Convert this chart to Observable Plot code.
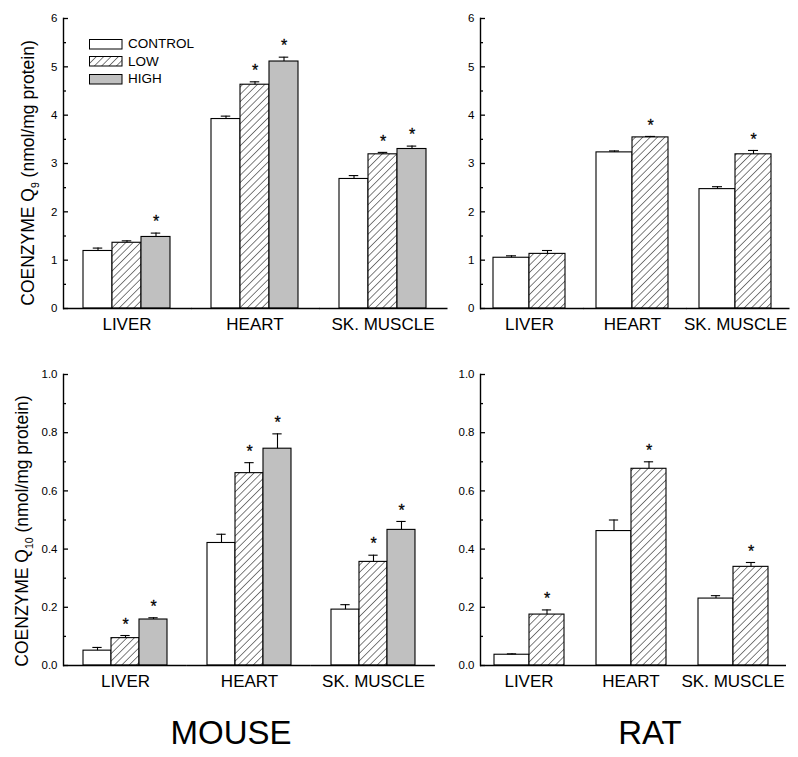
<!DOCTYPE html>
<html>
<head>
<meta charset="utf-8">
<script src="https://cdn.jsdelivr.net/npm/d3@7"></script>
<script src="https://cdn.jsdelivr.net/npm/@observablehq/plot@0.6"></script>
<style>
  body { margin: 0; background: #fff; font-family: "Liberation Sans", Arial, sans-serif; color: #000; }
  #root { position: relative; width: 798px; height: 757px; overflow: hidden; background: #fff; }
  .panel { position: absolute; }
  .ylab { position: absolute; white-space: nowrap; font-size: 17.5px; line-height: 1; transform: translate(-50%, -50%) rotate(-90deg); }
  .ylab sub { font-size: 0.6em; }
  .species { position: absolute; font-size: 33px; line-height: 1; transform: translateX(-50%); white-space: nowrap; }
  .lrow { position: absolute; left: 89px; height: 10px; display: flex; align-items: center; }
  .lrow span { margin-left: 5px; font-size: 13.5px; line-height: 10px; }
</style>
</head>
<body>
<svg width="0" height="0" style="position:absolute">
  <defs>
    <pattern id="hatch" patternUnits="userSpaceOnUse" width="5.2" height="5.2" patternTransform="rotate(45)">
      <rect width="5.2" height="5.2" fill="white"></rect>
      <line x1="0" y1="0" x2="0" y2="5.2" stroke="black" stroke-width="1"></line>
    </pattern>
  </defs>
</svg>
<div id="root"></div>
<script>
// ---------- data ----------
const organs = ["LIVER", "HEART", "SK. MUSCLE"];
const groups = ["CONTROL", "LOW", "HIGH"];
const species = ["MOUSE", "RAT"];

// Mouse coenzyme Q9 (nmol/mg protein), per organ
const mouseQ9Control = [1.19, 3.92, 2.68];
const mouseQ9Low     = [1.36, 4.63, 3.19];
const mouseQ9High    = [1.48, 5.11, 3.30];
const mouseQ9ControlErr = [0.06, 0.06, 0.07];
const mouseQ9LowErr     = [0.04, 0.06, 0.04];
const mouseQ9HighErr    = [0.08, 0.09, 0.06];
const mouseQ9ControlSig = [false, false, false];
const mouseQ9LowSig     = [false, true, true];
const mouseQ9HighSig    = [true, true, true];

// Rat coenzyme Q9
const ratQ9Control = [1.05, 3.23, 2.47];
const ratQ9Low     = [1.13, 3.54, 3.19];
const ratQ9ControlErr = [0.04, 0.03, 0.05];
const ratQ9LowErr     = [0.07, 0.02, 0.08];
const ratQ9ControlSig = [false, false, false];
const ratQ9LowSig     = [false, true, true];

// Mouse coenzyme Q10
const mouseQ10Control = [0.051, 0.421, 0.192];
const mouseQ10Low     = [0.094, 0.661, 0.356];
const mouseQ10High    = [0.158, 0.745, 0.466];
const mouseQ10ControlErr = [0.011, 0.030, 0.017];
const mouseQ10LowErr     = [0.009, 0.036, 0.023];
const mouseQ10HighErr    = [0.006, 0.051, 0.029];
const mouseQ10ControlSig = [false, false, false];
const mouseQ10LowSig     = [true, true, true];
const mouseQ10HighSig    = [true, true, true];

// Rat coenzyme Q10
const ratQ10Control = [0.037, 0.462, 0.230];
const ratQ10Low     = [0.175, 0.676, 0.339];
const ratQ10ControlErr = [0.003, 0.038, 0.010];
const ratQ10LowErr     = [0.016, 0.024, 0.015];
const ratQ10ControlSig = [false, false, false];
const ratQ10LowSig     = [true, true, true];

// axis ticks
const q9Ticks = [0, 1, 2, 3, 4, 5, 6];
const q9Minor = [0.5, 1.5, 2.5, 3.5, 4.5, 5.5];
const q10Ticks = [0, 0.2, 0.4, 0.6, 0.8, 1.0];
const q10Minor = [0.1, 0.3, 0.5, 0.7, 0.9];

// ---------- styles ----------
const fills = {CONTROL: "white", LOW: "url(#hatch)", HIGH: "#c0c0c0"};
const FONT = "'Liberation Sans', Arial, sans-serif";

const root = document.getElementById("root");

function makePanel(cfg) {
  const gs = groups.slice(0, cfg.series.length);
  const rows = [];
  organs.forEach((o, i) => gs.forEach((g, j) => {
    const v = cfg.series[j][i], e = cfg.errors[j][i];
    rows.push({organ: o, group: g, value: v, err: e, top: v + e, sig: cfg.sig[j][i]});
  }));
  const band = 2 * cfg.inset + gs.length * cfg.bar;
  const gap = cfg.step - band;
  const width = cfg.marginLeft + 2 * cfg.step + band + cfg.marginRight;
  const height = cfg.marginTop + cfg.plotHeight + cfg.marginBottom;
  const capInset = (cfg.bar - 10) / 2;

  const plot = Plot.plot({
    width, height,
    marginLeft: cfg.marginLeft, marginRight: cfg.marginRight,
    marginTop: cfg.marginTop, marginBottom: cfg.marginBottom,
    style: {background: "transparent", fontFamily: FONT, color: "black", overflow: "visible"},
    fx: {domain: organs, paddingInner: gap / cfg.step, paddingOuter: 0, label: null},
    x: {domain: gs, padding: 0, insetLeft: cfg.inset, insetRight: cfg.inset, axis: null},
    y: {domain: cfg.yDomain, label: null},
    marks: [
      ...gs.map(g => Plot.barY(rows.filter(d => d.group === g), {
        fx: "organ", x: "group", y: "value", fill: fills[g], stroke: "black", strokeWidth: 1.1
      })),
      Plot.ruleX(rows, {fx: "organ", x: "group", y1: "value", y2: "top", stroke: "black", strokeWidth: 1.1}),
      Plot.tickY(rows, {fx: "organ", x: "group", y: "top", stroke: "black", strokeWidth: 1.1, insetLeft: capInset, insetRight: capInset}),
      Plot.text(rows.filter(d => d.sig), {fx: "organ", x: "group", y: "top", text: () => "*", dy: -11, fontSize: 16, fill: "black", stroke: "black", strokeWidth: 0.3}),
      Plot.ruleY([cfg.yDomain[0]], {stroke: "black", strokeWidth: 1.4, insetRight: -gap}),
      Plot.frame({anchor: "left", facetAnchor: "left", stroke: "black", strokeWidth: 1.4}),
      Plot.axisY({ticks: cfg.ticks, tickSize: -5, tickPadding: 11, tickFormat: cfg.fmt, fontSize: 11.5, label: null, strokeWidth: 1.3}),
      Plot.axisY({ticks: cfg.minor, tickSize: -3, tickFormat: () => "", label: null, strokeWidth: 1.3}),
      Plot.axisFx({anchor: "bottom", tickSize: 0, tickPadding: 9, fontSize: 17, label: null})
    ]
  });
  plot.classList.add("panel");
  plot.style.left = cfg.left + "px";
  plot.style.top = cfg.top + "px";
  root.appendChild(plot);
}

const fmtInt = d3.format("d");
const fmt1 = d3.format(".1f");

makePanel({series: [mouseQ9Control, mouseQ9Low, mouseQ9High],
  errors: [mouseQ9ControlErr, mouseQ9LowErr, mouseQ9HighErr],
  sig: [mouseQ9ControlSig, mouseQ9LowSig, mouseQ9HighSig],
  yDomain: [0, 6], ticks: q9Ticks, minor: q9Minor, fmt: fmtInt,
  step: 128, bar: 29.5, inset: 19,
  left: 0, top: 0, marginLeft: 63, marginRight: 6, marginTop: 18, plotHeight: 290, marginBottom: 37});

makePanel({series: [ratQ9Control, ratQ9Low],
  errors: [ratQ9ControlErr, ratQ9LowErr],
  sig: [ratQ9ControlSig, ratQ9LowSig],
  yDomain: [0, 6], ticks: q9Ticks, minor: q9Minor, fmt: fmtInt,
  step: 103.5, bar: 36, inset: 13,
  left: 440, top: 0, marginLeft: 39, marginRight: 6, marginTop: 18, plotHeight: 290, marginBottom: 37});

makePanel({series: [mouseQ10Control, mouseQ10Low, mouseQ10High],
  errors: [mouseQ10ControlErr, mouseQ10LowErr, mouseQ10HighErr],
  sig: [mouseQ10ControlSig, mouseQ10LowSig, mouseQ10HighSig],
  yDomain: [0, 1], ticks: q10Ticks, minor: q10Minor, fmt: fmt1,
  step: 124, bar: 28.7, inset: 19,
  left: 0, top: 345, marginLeft: 63, marginRight: 6, marginTop: 29, plotHeight: 291, marginBottom: 40});

makePanel({series: [ratQ10Control, ratQ10Low],
  errors: [ratQ10ControlErr, ratQ10LowErr],
  sig: [ratQ10ControlSig, ratQ10LowSig],
  yDomain: [0, 1], ticks: q10Ticks, minor: q10Minor, fmt: fmt1,
  step: 102.5, bar: 35.75, inset: 13,
  left: 440, top: 345, marginLeft: 39, marginRight: 6, marginTop: 29, plotHeight: 291, marginBottom: 40});

// y-axis titles
function ylab(html, x, y) {
  const d = document.createElement("div");
  d.className = "ylab";
  d.innerHTML = html;
  d.style.left = x + "px";
  d.style.top = y + "px";
  root.appendChild(d);
}
ylab("COENZYME Q<sub>9</sub> (nmol/mg protein)", 30, 173);
ylab("COENZYME Q<sub>10</sub> (nmol/mg protein)", 24, 531);

// species labels
const speciesX = [231, 650];
species.forEach((s, i) => {
  const d = document.createElement("div");
  d.className = "species";
  d.textContent = s;
  d.style.left = speciesX[i] + "px";
  d.style.top = "716px";
  root.appendChild(d);
});

// legend
groups.forEach((g, i) => {
  const row = document.createElement("div");
  row.className = "lrow";
  row.style.top = (39 + i * 17.5) + "px";
  const svg = d3.create("svg").attr("width", 34).attr("height", 11).style("display", "block");
  svg.append("rect").attr("x", 0.5).attr("y", 0.5).attr("width", 32.5).attr("height", 9.5)
     .attr("fill", fills[g]).attr("stroke", "black").attr("stroke-width", 1);
  row.appendChild(svg.node());
  const sp = document.createElement("span");
  sp.textContent = g;
  row.appendChild(sp);
  root.appendChild(row);
});
</script>
</body>
</html>
